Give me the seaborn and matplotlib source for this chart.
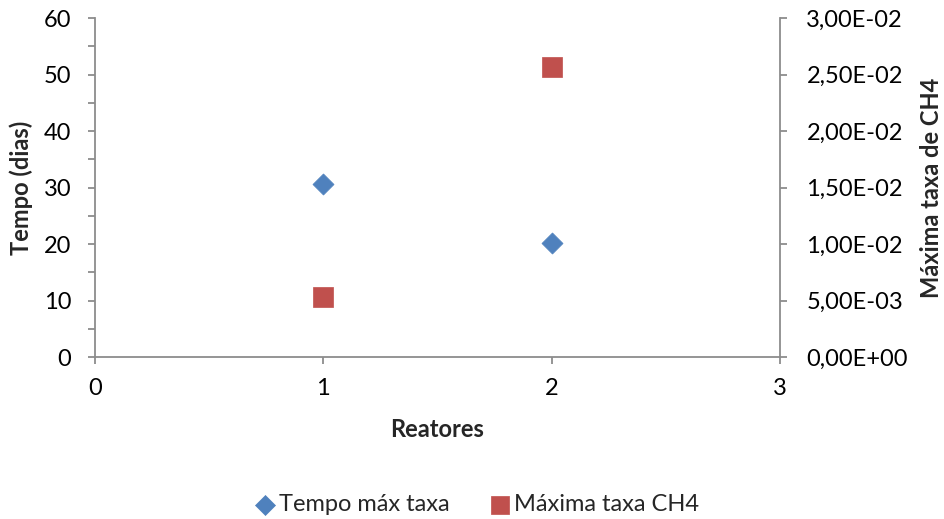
import matplotlib
matplotlib.use("Agg")
import matplotlib.pyplot as plt
from matplotlib.ticker import FuncFormatter, MultipleLocator
import seaborn as sns
import pandas as pd

# Data
reatores = [1, 2]
tempo_max_taxa = [30.55, 20.2]          # dias
maxima_taxa_ch4 = [0.00531, 0.02566]    # taxa de CH4

sns.set_theme(style="white")
plt.rcParams["font.family"] = ["Lato", "DejaVu Sans"]

BLUE = "#4F81BD"
RED = "#C0504D"
AXIS = "#8C8C8C"
FS = 17

df = pd.DataFrame({"Reatores": reatores,
                   "Tempo": tempo_max_taxa,
                   "CH4": maxima_taxa_ch4})

fig = plt.figure(figsize=(9.45, 5.19), dpi=100)
ax = fig.add_axes([0.1005, 0.312, 0.7249, 0.6533])
ax2 = ax.twinx()

sns.scatterplot(data=df, x="Reatores", y="Tempo", ax=ax, marker="D",
                s=115, color=BLUE, edgecolor=BLUE, linewidth=0.5,
                label="Tempo máx taxa", legend=False, zorder=3)
sns.scatterplot(data=df, x="Reatores", y="CH4", ax=ax2, marker="s",
                s=205, color=RED, edgecolor=RED, linewidth=0.5,
                label="Máxima taxa CH4", legend=False, zorder=3)

ax.set_xlim(0, 3)
ax.set_ylim(0, 60)
ax2.set_ylim(0, 0.03)
ax.xaxis.set_major_locator(MultipleLocator(1))
ax.yaxis.set_major_locator(MultipleLocator(10))
ax.yaxis.set_minor_locator(MultipleLocator(5))
ax2.yaxis.set_major_locator(MultipleLocator(0.005))
ax2.yaxis.set_major_formatter(
    FuncFormatter(lambda v, p: f"{v:.2E}".replace(".", ",")))

for a in (ax, ax2):
    for side, sp in a.spines.items():
        sp.set_color(AXIS)
        sp.set_linewidth(1.3)
    a.spines["top"].set_visible(False)
ax.spines["right"].set_visible(False)
ax2.spines["left"].set_visible(False)
ax2.spines["bottom"].set_visible(False)

ax.tick_params(axis="both", which="both", direction="out", length=5,
               width=1.3, color=AXIS, labelsize=FS, labelcolor="black")
ax.tick_params(axis="y", which="both", left=True, right=False, pad=12)
ax.tick_params(axis="x", which="both", bottom=True, pad=10)
ax2.tick_params(axis="y", which="both", direction="out", length=5,
                width=1.3, color=AXIS, labelsize=FS, labelcolor="black",
                right=True, pad=14)

ax.set_xlabel("Reatores", fontsize=FS, fontweight="bold", labelpad=14)
ax.set_ylabel("Tempo (dias)", fontsize=FS, fontweight="bold", labelpad=8)
ax2.set_ylabel("Máxima taxa de CH4", fontsize=FS, fontweight="bold",
               labelpad=9)

h1, l1 = ax.get_legend_handles_labels()
h2, l2 = ax2.get_legend_handles_labels()
fig.legend(h1 + h2, l1 + l2, loc="center", bbox_to_anchor=(0.5, 0.027),
           ncol=2, frameon=False, fontsize=FS, handletextpad=-0.2,
           handlelength=1.6, columnspacing=1.3, markerscale=0.95)

fig.savefig("out.png", dpi=100)
